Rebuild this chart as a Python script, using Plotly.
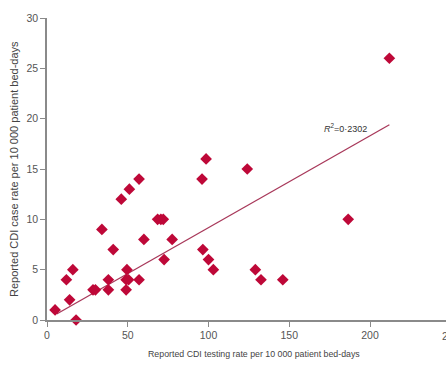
import plotly.graph_objects as go

# Reported CDI testing rate (x) and case rate (y) per 10 000 patient bed-days
testing_rate = [5, 12, 14, 16, 18, 28.5, 30, 34, 38, 38, 41, 46, 49.5, 49, 50.5, 49,
                51, 57, 57, 60, 68.5, 70.5, 72, 72.5, 77.5, 96, 98.5, 96.5, 100, 103,
                124, 129, 132.5, 146, 186.5, 212]
case_rate = [1, 4, 2, 5, 0, 3, 3, 9, 4, 3, 7, 12, 5, 4, 4, 3,
             13, 14, 4, 8, 10, 10, 10, 6, 8, 14, 16, 7, 6, 5,
             15, 5, 4, 4, 10, 26]

# Regression line end points
trend_x = [6, 212]
trend_y = [0.6, 19.4]
r2_label = "<i>R</i><sup>2</sup>=0·2302"

x_title = "Reported CDI testing rate per 10 000 patient bed-days"
y_title = "Reported CDI case rate per 10 000 patient bed-days"

x_ticks = [0, 50, 100, 150, 200, 250]
y_ticks = [0, 5, 10, 15, 20, 25, 30]

W, H = 446, 365
L, T, B = 47, 18, 45
plot_w = W - L
plot_h = H - T - B
px_per_x = (370 - 47) / 200.0
x_max = plot_w / px_per_x

FONT = "Liberation Sans Narrow, Liberation Sans, Arial, sans-serif"
tick_font = dict(family=FONT, size=10.5, color="#555555")

fig = go.Figure()
fig.add_trace(go.Scatter(x=trend_x, y=trend_y, mode="lines",
                         line=dict(color="#a8385a", width=1.3), hoverinfo="skip"))
fig.add_trace(go.Scatter(x=testing_rate, y=case_rate, mode="markers",
                         marker=dict(symbol="diamond", size=9, color="#be0838",
                                     line=dict(width=0)), cliponaxis=False))

fig.add_annotation(x=170.4, y=19.1, xref="x", yref="y", text=r2_label, showarrow=False,
                   xanchor="left", yanchor="middle",
                   font=dict(family=FONT, size=9, color="#333333"))
fig.add_annotation(x=(253.5 - L) / plot_w, y=(320 - 354) / plot_h, xref="paper", yref="paper",
                   text=x_title, showarrow=False, xanchor="center", yanchor="middle",
                   font=dict(family=FONT, size=8.8, color="#444444"))
fig.add_annotation(x=(14 - L) / plot_w, y=0.5, xref="paper", yref="paper",
                   text=y_title, showarrow=False, textangle=-90, xanchor="center", yanchor="middle",
                   font=dict(family="Liberation Sans, Arial, sans-serif", size=11, color="#444444"))
# partially visible 250 tick label at the right edge
fig.add_annotation(x=(250 * px_per_x) / plot_w, y=-8 / plot_h, xref="paper", yref="paper",
                   text=str(x_ticks[-1]), showarrow=False, xanchor="center", yanchor="top",
                   font=tick_font)

fig.update_layout(
    width=W, height=H,
    margin=dict(l=L, r=0, t=T, b=B),
    plot_bgcolor="white", paper_bgcolor="white",
    showlegend=False,
    xaxis=dict(range=[0, x_max], tickvals=x_ticks[:-1], showgrid=False, zeroline=False,
               showline=True, linecolor="#8a8a8a", linewidth=1.5,
               ticks="outside", ticklen=5, tickcolor="#8a8a8a", tickfont=tick_font),
    yaxis=dict(range=[0, 30], tickvals=y_ticks, showgrid=False, zeroline=False,
               showline=True, linecolor="#8a8a8a", linewidth=1.5,
               ticks="outside", ticklen=5, tickcolor="#8a8a8a", tickfont=tick_font),
)

fig.write_html("out.html", config={"displayModeBar": False},
               post_script="document.body.style.margin='0px';document.documentElement.style.overflow='hidden';")
